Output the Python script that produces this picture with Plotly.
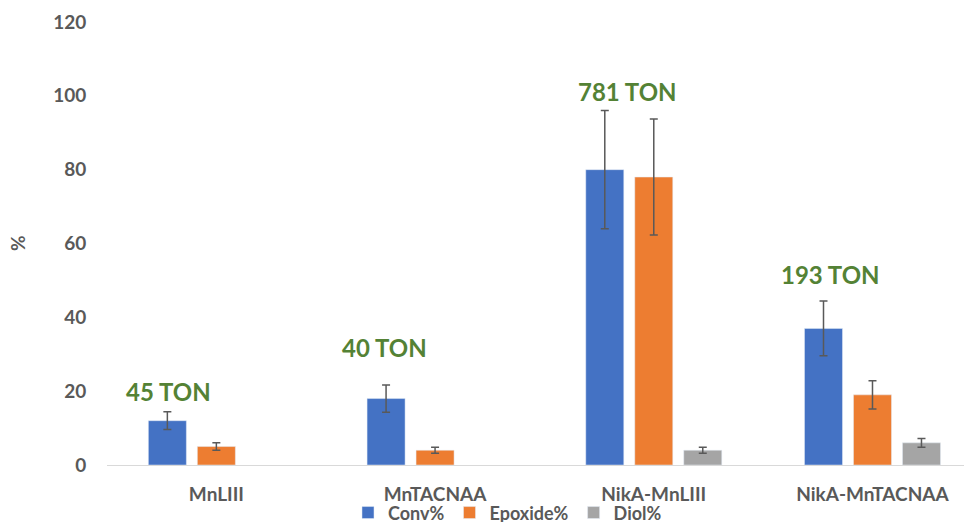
import plotly.graph_objects as go

categories = ["MnLIII", "MnTACNAA", "NikA-MnLIII", "NikA-MnTACNAA"]
conv = [12, 18, 80, 37]
conv_err = [2.4, 3.7, 16, 7.4]
epoxide = [5, 4, 78, 19]
epoxide_err = [1.0, 0.8, 15.7, 3.8]
diol = [None, None, 4, 6]
diol_err = [0, 0, 0.8, 1.2]
ton_labels = ["45 TON", "40 TON", "781 TON", "193 TON"]
ton_y = [19.8, 31.7, 101.3, 51.5]
ton_x_offset = [-0.22, -0.23, -0.12, -0.19]

font_family = "Lato, Open Sans, sans-serif"
err_style = dict(type="data", visible=True, color="#595959", thickness=1.5, width=4)

fig = go.Figure()
for name, vals, errs, color in [
    ("Conv%", conv, conv_err, "#4472C4"),
    ("Epoxide%", epoxide, epoxide_err, "#ED7D31"),
    ("Diol%", diol, diol_err, "#A5A5A5"),
]:
    fig.add_trace(go.Bar(
        x=list(range(len(categories))), y=vals, name=name,
        marker=dict(color=color),
        error_y=dict(array=errs, **err_style),
    ))

for i, (t, y, dx) in enumerate(zip(ton_labels, ton_y, ton_x_offset)):
    fig.add_annotation(x=i + dx, y=y, xref="x", yref="y", text=t, showarrow=False,
                       font=dict(family=font_family, size=24, color="#548235", weight="bold"))

fig.add_annotation(x=(17 - 107) / 865, y=(465 - 243) / 443, xref="paper", yref="paper",
                   text="%", showarrow=False, textangle=-90, xanchor="center", yanchor="middle",
                   font=dict(family=font_family, size=19, color="#595959", weight="bold"))

fig.update_layout(
    width=972, height=522,
    margin=dict(l=99, r=8, t=14, b=65, autoexpand=False),
    paper_bgcolor="white", plot_bgcolor="white",
    barmode="group", bargap=0.328, bargroupgap=0.224,
    showlegend=True,
    legend=dict(orientation="h", x=0.463, xanchor="center", y=-0.108, yanchor="middle",
                font=dict(family=font_family, size=18, color="#595959", weight="bold"),
                itemwidth=30, bgcolor="rgba(0,0,0,0)"),
    xaxis=dict(tickmode="array", tickvals=list(range(len(categories))), ticktext=categories,
               range=[-0.5, 3.455], showline=True, linecolor="#d9d9d9", linewidth=1,
               showgrid=False, zeroline=False, ticks="outside", ticklen=12, tickcolor="rgba(0,0,0,0)",
               tickfont=dict(family=font_family, size=19, color="#595959", weight="bold")),
    yaxis=dict(range=[0, 120], tickvals=[0, 20, 40, 60, 80, 100, 120], showgrid=False,
               zeroline=False, showline=False, ticks="outside", ticklen=16, tickcolor="rgba(0,0,0,0)",
               tickfont=dict(family=font_family, size=19, color="#595959", weight="bold")),
)

fig.write_html("out.html")
